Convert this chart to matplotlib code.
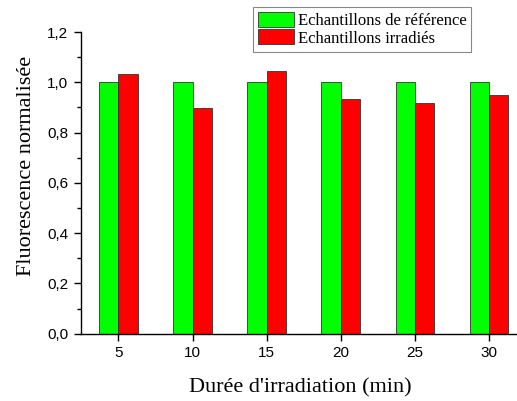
import numpy as np
import matplotlib.pyplot as plt
from matplotlib.ticker import MultipleLocator, FuncFormatter

durees = [5, 10, 15, 20, 25, 30]
reference = [1.0, 1.0, 1.0, 1.0, 1.0, 1.0]
irradies = [1.032, 0.896, 1.044, 0.935, 0.918, 0.951]

fig = plt.figure(figsize=(5.17, 4.01), dpi=100)
ax = fig.add_axes([0.156, 0.168, 0.85, 0.752])

w = 1.3
x = np.array(durees, dtype=float)
ax.bar(x - w/2, reference, width=w, color='#00ff00', edgecolor='#333333', linewidth=0.6,
       label='Echantillons de référence')
ax.bar(x + w/2, irradies, width=w, color='#ff0000', edgecolor='#333333', linewidth=0.6,
       label='Echantillons irradiés')

ax.set_xlim(2.45, 32.1)
ax.set_ylim(0, 1.2)
ax.set_xticks(durees)
ax.yaxis.set_major_locator(MultipleLocator(0.2))
ax.yaxis.set_minor_locator(MultipleLocator(0.1))
ax.yaxis.set_major_formatter(FuncFormatter(lambda v, p: f'{v:.1f}'.replace('.', ',')))

for s in ['top', 'right']:
    ax.spines[s].set_visible(False)
ax.spines['left'].set_linewidth(1.0)
ax.spines['bottom'].set_linewidth(1.0)
ax.tick_params(axis='both', which='major', direction='out', length=5, width=1.0,
               labelsize=11, labelfontfamily='Liberation Sans', pad=4)
ax.tick_params(axis='y', which='minor', direction='out', length=3, width=1.0)

ax.set_ylabel('Fluorescence normalisée', fontsize=16, fontfamily='Liberation Serif', labelpad=8)
ax.yaxis.label.set_y(0.556)
ax.set_xlabel("Durée d'irradiation (min)", fontsize=16, fontfamily='Liberation Serif', labelpad=13)

leg = ax.legend(loc='upper left', bbox_to_anchor=(252.5/517, 1 - 7.3/401), bbox_transform=fig.transFigure,
                prop={'family': 'Liberation Serif', 'size': 12}, fancybox=False, framealpha=1,
                edgecolor='#888888', handlelength=2.2, handleheight=1.0, handletextpad=0.2,
                labelspacing=0.0, borderpad=0.3, borderaxespad=0)
leg.get_frame().set_linewidth(0.8)

fig.savefig('out.png', dpi=100)
